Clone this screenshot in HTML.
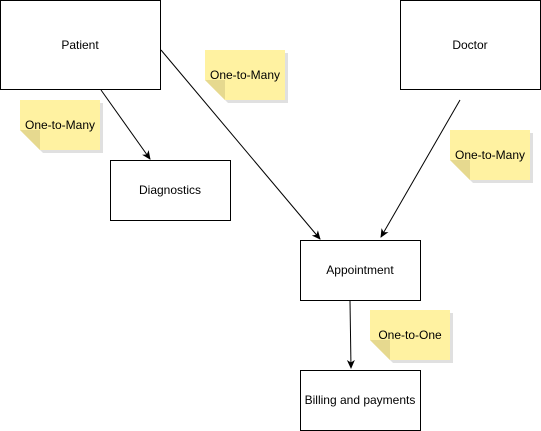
<!DOCTYPE html>
<html><head><meta charset="utf-8"><style>
html,body{margin:0;padding:0;background:#fff;}
svg{display:block;}
text{font-family:"Liberation Sans",Arial,sans-serif;font-size:12px;fill:#000;}
</style></head><body>
<svg width="541" height="431" viewBox="0 0 541 431" xmlns="http://www.w3.org/2000/svg">
<defs>
<marker id="a" markerWidth="10" markerHeight="10" refX="8" refY="5" orient="auto" markerUnits="userSpaceOnUse">
<path d="M0,1 L9,5 L0,9 L2.5,5 Z" fill="#000"/>
</marker>
<g id="note">
<path d="M3,3 H83 V53 H23 L3,33 Z" fill="#000" opacity="0.12"/>
<path d="M0,0 H80 V50 H20 L0,30 Z" fill="#fff2a1"/>
<path d="M0,30 L20,30 L20,50 Z" fill="#e6d98f"/>
</g>
</defs>
<g fill="#fff" stroke="#000" stroke-width="1">
<rect x="0.5" y="0.5" width="160" height="89"/>
<rect x="400.5" y="0.5" width="140" height="89"/>
<rect x="110.5" y="160.5" width="120" height="60"/>
<rect x="300.5" y="240.5" width="120" height="60"/>
<rect x="300.5" y="370.5" width="120" height="60"/>
</g>
<g stroke="#000" stroke-width="1" fill="none">
<line x1="101" y1="90" x2="150" y2="159" marker-end="url(#a)"/>
<line x1="161" y1="50" x2="320" y2="239" marker-end="url(#a)"/>
<line x1="460" y1="100" x2="381" y2="237" marker-end="url(#a)"/>
<line x1="350" y1="301" x2="351" y2="368" marker-end="url(#a)"/>
</g>
<use href="#note" x="20" y="100"/>
<use href="#note" x="205" y="50"/>
<use href="#note" x="450" y="130"/>
<use href="#note" x="370" y="310"/>
<g text-anchor="middle">
<text x="80" y="49">Patient</text>
<text x="470" y="49">Doctor</text>
<text x="170" y="194">Diagnostics</text>
<text x="360" y="274">Appointment</text>
<text x="360" y="404">Billing and payments</text>
<text x="60" y="129">One-to-Many</text>
<text x="245" y="79">One-to-Many</text>
<text x="490" y="159">One-to-Many</text>
<text x="410" y="339">One-to-One</text>
</g>
</svg>
</body></html>
